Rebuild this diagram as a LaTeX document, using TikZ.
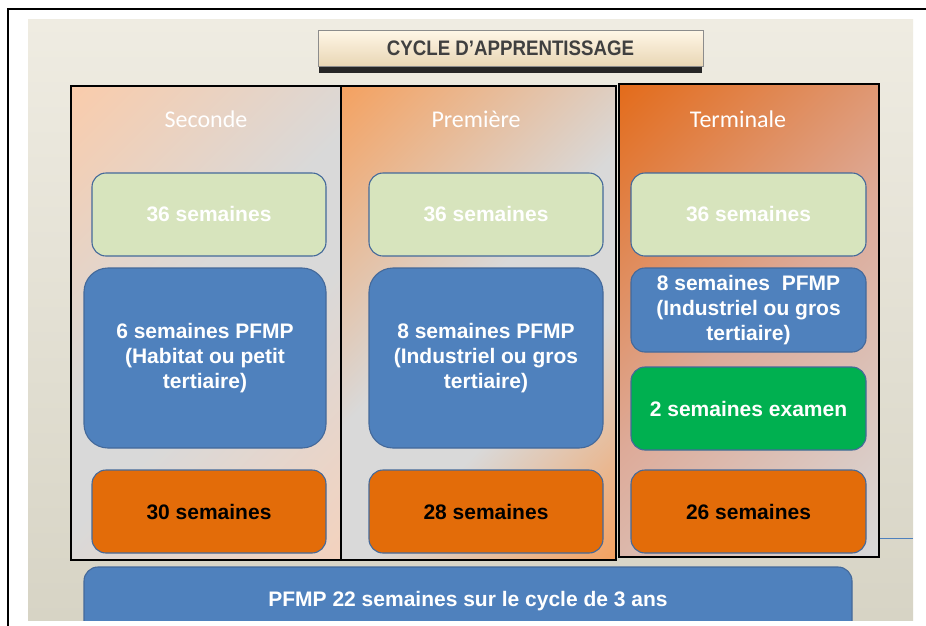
\documentclass[tikz,border=0pt]{standalone}
\usepackage{fontspec}
\setmainfont{Liberation Sans}
\newfontfamily\headfont{Carlito}
\newfontfamily\titlefont{Liberation Sans}[FakeStretch=0.89]

\definecolor{slidetop}{HTML}{EFECE2}
\definecolor{slidebot}{HTML}{D7D4C5}
\definecolor{peachA}{HTML}{F9CCAC}
\definecolor{peachB}{HTML}{F3D2BE}
\definecolor{greyA}{HTML}{D9D9D9}
\definecolor{orangeA}{HTML}{F4A262}
\definecolor{orangeB}{HTML}{E36C1C}
\definecolor{salmonA}{HTML}{DDAA98}
\definecolor{lightgreen}{HTML}{D7E4BD}
\definecolor{pfmpblue}{HTML}{4F81BD}
\definecolor{weekorange}{HTML}{E36C09}
\definecolor{examgreen}{HTML}{00B050}
\definecolor{boxline}{HTML}{44699A}
\definecolor{titletop}{HTML}{FFF6E6}
\definecolor{titlebot}{HTML}{E8D6B4}

\pgfdeclarehorizontalshading{secondeshade}{100bp}{color(0bp)=(peachA); color(15bp)=(peachA); color(45bp)=(greyA); color(57bp)=(greyA); color(85bp)=(peachB); color(100bp)=(peachB)}
\pgfdeclarehorizontalshading{premiereshade}{100bp}{color(0bp)=(orangeA); color(15bp)=(orangeA); color(47bp)=(greyA); color(62bp)=(greyA); color(85bp)=(orangeA); color(100bp)=(orangeA)}
\pgfdeclarehorizontalshading{terminaleshade}{100bp}{color(0bp)=(orangeB); color(15bp)=(orangeB); color(50bp)=(salmonA); color(85bp)=(greyA); color(100bp)=(greyA)}

\begin{document}
\begin{tikzpicture}[x=1pt, y=-1pt,
  column/.style={draw=black, line width=1.2pt, inner sep=0pt, shading angle=-45},
  headtext/.style={text=white, font=\headfont\fontsize{24}{26}\selectfont},
  weekbox/.style={draw=boxline, line width=1.1pt, rounded corners=14pt, minimum width=234pt, minimum height=83pt, inner sep=0pt, align=center, font=\bfseries\fontsize{21}{25}\selectfont},
  pfmpbox/.style={weekbox, fill=pfmpblue, text=white}]

\useasboundingbox (0,0) rectangle (926,625);
\fill[white] (0,0) rectangle (926,625);
\fill[top color=slidetop, bottom color=slidebot] (28,19) rectangle (913,620);
\draw[line width=2pt] (8,640) -- (8,9) -- (940,9);

\fill[black!85] (319,64) rectangle (702,73);
\node[draw=black!45, line width=0.8pt, top color=titletop, bottom color=titlebot, minimum width=385pt, minimum height=36pt, inner sep=0pt, text=black!75, font=\titlefont\bfseries\fontsize{21}{24}\selectfont] (title) at (510.5,48.5) {CYCLE D’APPRENTISSAGE};

\node[column, shading=secondeshade, minimum width=270pt, minimum height=474pt] (seconde) at (206,323) {};
\node[column, shading=premiereshade, minimum width=275pt, minimum height=474pt] (premiere) at (478.5,323) {};
\node[column, shading=terminaleshade, line width=1.8pt, minimum width=260pt, minimum height=473pt] (terminale) at (749,320.5) {};

\node[headtext] (secondetitle) at (206,119) {Seconde};
\node[headtext] (premieretitle) at (476,119) {Première};
\node[headtext] (terminaletitle) at (738,119) {Terminale};

\node[weekbox, fill=lightgreen, text=white] (annuelA) at (209,214.5) {36 semaines};
\node[pfmpbox, rounded corners=24pt, minimum width=242pt, minimum height=180pt] (pfmpA) at (205,358) {6 semaines PFMP\\(Habitat ou petit\\tertiaire)};
\node[weekbox, fill=weekorange, text=black] (ecoleA) at (209,511.5) {30 semaines};

\node[weekbox, fill=lightgreen, text=white] (annuelB) at (486,214.5) {36 semaines};
\node[pfmpbox, rounded corners=24pt, minimum height=180pt] (pfmpB) at (486,358) {8 semaines PFMP\\(Industriel ou gros\\tertiaire)};
\node[weekbox, fill=weekorange, text=black] (ecoleB) at (486,511.5) {28 semaines};

\node[weekbox, fill=lightgreen, text=white, minimum width=235pt] (annuelC) at (748.5,214.5) {36 semaines};
\node[pfmpbox, minimum width=235pt, minimum height=84pt] (pfmpC) at (748.5,310) {8 semaines~ PFMP\\(Industriel ou gros\\tertiaire)};
\node[weekbox, fill=examgreen, text=white, minimum width=235pt] (examen) at (748.5,408.5) {2 semaines examen};
\node[weekbox, fill=weekorange, text=black, minimum width=235pt] (ecoleC) at (748.5,511.5) {26 semaines};

\coordinate (lienA) at (terminale.east |- 0,538);
\coordinate (lienB) at (913,538);
\draw[pfmpblue, line width=0.8pt] (lienA) -- (lienB);

\begin{scope}
\clip (28,19) rectangle (913,620);
\node[pfmpbox, minimum width=768pt, minimum height=68pt] (pfmptotal) at (468,601) {PFMP 22 semaines sur le cycle de 3 ans};
\end{scope}

\end{tikzpicture}
\end{document}
